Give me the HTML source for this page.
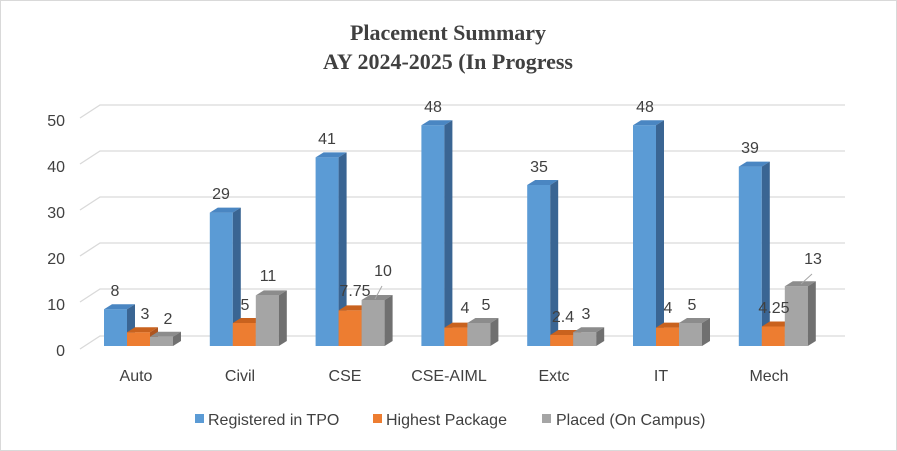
<!DOCTYPE html>
<html><head><meta charset="utf-8"><style>
html,body{margin:0;padding:0;background:#fff}
svg{display:block}
text{font-family:"Liberation Sans",Arial,sans-serif;fill:#404040}
</style></head><body>
<svg width="897" height="451" viewBox="0 0 897 451" xmlns="http://www.w3.org/2000/svg">
<rect x="0.5" y="0.5" width="896" height="450" fill="#fff" stroke="#d9d9d9"/>
<text x="448" y="40" text-anchor="middle" style="font-family:'Liberation Serif',serif;font-weight:bold;font-size:22px;fill:#404040">Placement Summary</text>
<text x="448" y="69" text-anchor="middle" style="font-family:'Liberation Serif',serif;font-weight:bold;font-size:22px;fill:#404040">AY 2024-2025 (In Progress</text>
<g stroke="#d9d9d9" stroke-width="1.3" fill="none">
<polyline points="80,118 100,105 845,105"/>
<polyline points="80,164 100,151 845,151"/>
<polyline points="80,210 100,197 845,197"/>
<polyline points="80,256 100,243 845,243"/>
<polyline points="80,302 100,289 845,289"/>
<polyline points="80,349 100,336 845,336"/>
</g>
<g font-size="16" text-anchor="end">
<text x="65" y="126">50</text><text x="65" y="172">40</text><text x="65" y="218">30</text>
<text x="65" y="264">20</text><text x="65" y="310">10</text><text x="65" y="356">0</text>
</g>
<defs>
<style>
.bf{fill:#5b9bd5}.bt{fill:#4a86c2}.bs{fill:#3a6593}
.of{fill:#ed7d31}.ot{fill:#c9621e}.os{fill:#ae5520}
.gf{fill:#a5a5a5}.gt{fill:#8c8c8c}.gs{fill:#707070}
</style>
</defs>
<g transform="translate(104,309.2)"><rect class="bf" width="23" height="36.8"/><polygon class="bt" points="0,0 8,-5 31,-5 23,0"/><polygon class="bs" points="23,0 31,-5 31,31.8 23,36.8"/></g>
<g transform="translate(127,332.2)"><rect class="of" width="23" height="13.8"/><polygon class="ot" points="0,0 8,-5 31,-5 23,0"/><polygon class="os" points="23,0 31,-5 31,8.8 23,13.8"/></g>
<g transform="translate(150,336.8)"><rect class="gf" width="23" height="9.2"/><polygon class="gt" points="0,0 8,-5 31,-5 23,0"/><polygon class="gs" points="23,0 31,-5 31,4.2 23,9.2"/></g>
<g transform="translate(209.8,212.6)"><rect class="bf" width="23" height="133.4"/><polygon class="bt" points="0,0 8,-5 31,-5 23,0"/><polygon class="bs" points="23,0 31,-5 31,128.4 23,133.4"/></g>
<g transform="translate(232.8,323)"><rect class="of" width="23" height="23"/><polygon class="ot" points="0,0 8,-5 31,-5 23,0"/><polygon class="os" points="23,0 31,-5 31,18 23,23"/></g>
<g transform="translate(255.8,295.4)"><rect class="gf" width="23" height="50.6"/><polygon class="gt" points="0,0 8,-5 31,-5 23,0"/><polygon class="gs" points="23,0 31,-5 31,45.6 23,50.6"/></g>
<g transform="translate(315.6,157.4)"><rect class="bf" width="23" height="188.6"/><polygon class="bt" points="0,0 8,-5 31,-5 23,0"/><polygon class="bs" points="23,0 31,-5 31,183.6 23,188.6"/></g>
<g transform="translate(338.6,310.4)"><rect class="of" width="23" height="35.6"/><polygon class="ot" points="0,0 8,-5 31,-5 23,0"/><polygon class="os" points="23,0 31,-5 31,30.6 23,35.6"/></g>
<g transform="translate(361.6,300)"><rect class="gf" width="23" height="46"/><polygon class="gt" points="0,0 8,-5 31,-5 23,0"/><polygon class="gs" points="23,0 31,-5 31,41 23,46"/></g>
<g transform="translate(421.4,125.2)"><rect class="bf" width="23" height="220.8"/><polygon class="bt" points="0,0 8,-5 31,-5 23,0"/><polygon class="bs" points="23,0 31,-5 31,215.8 23,220.8"/></g>
<g transform="translate(444.4,327.6)"><rect class="of" width="23" height="18.4"/><polygon class="ot" points="0,0 8,-5 31,-5 23,0"/><polygon class="os" points="23,0 31,-5 31,13.4 23,18.4"/></g>
<g transform="translate(467.4,323)"><rect class="gf" width="23" height="23"/><polygon class="gt" points="0,0 8,-5 31,-5 23,0"/><polygon class="gs" points="23,0 31,-5 31,18 23,23"/></g>
<g transform="translate(527.2,185)"><rect class="bf" width="23" height="161"/><polygon class="bt" points="0,0 8,-5 31,-5 23,0"/><polygon class="bs" points="23,0 31,-5 31,156 23,161"/></g>
<g transform="translate(550.2,335)"><rect class="of" width="23" height="11"/><polygon class="ot" points="0,0 8,-5 31,-5 23,0"/><polygon class="os" points="23,0 31,-5 31,6 23,11"/></g>
<g transform="translate(573.2,332.2)"><rect class="gf" width="23" height="13.8"/><polygon class="gt" points="0,0 8,-5 31,-5 23,0"/><polygon class="gs" points="23,0 31,-5 31,8.8 23,13.8"/></g>
<g transform="translate(633,125.2)"><rect class="bf" width="23" height="220.8"/><polygon class="bt" points="0,0 8,-5 31,-5 23,0"/><polygon class="bs" points="23,0 31,-5 31,215.8 23,220.8"/></g>
<g transform="translate(656,327.6)"><rect class="of" width="23" height="18.4"/><polygon class="ot" points="0,0 8,-5 31,-5 23,0"/><polygon class="os" points="23,0 31,-5 31,13.4 23,18.4"/></g>
<g transform="translate(679,323)"><rect class="gf" width="23" height="23"/><polygon class="gt" points="0,0 8,-5 31,-5 23,0"/><polygon class="gs" points="23,0 31,-5 31,18 23,23"/></g>
<g transform="translate(738.8,166.6)"><rect class="bf" width="23" height="179.4"/><polygon class="bt" points="0,0 8,-5 31,-5 23,0"/><polygon class="bs" points="23,0 31,-5 31,174.4 23,179.4"/></g>
<g transform="translate(761.8,326.5)"><rect class="of" width="23" height="19.5"/><polygon class="ot" points="0,0 8,-5 31,-5 23,0"/><polygon class="os" points="23,0 31,-5 31,14.5 23,19.5"/></g>
<g transform="translate(784.8,286.2)"><rect class="gf" width="23" height="59.8"/><polygon class="gt" points="0,0 8,-5 31,-5 23,0"/><polygon class="gs" points="23,0 31,-5 31,54.8 23,59.8"/></g>
<g stroke="#a6a6a6" stroke-width="1"><line x1="375" y1="299" x2="382" y2="286"/><line x1="801" y1="284" x2="812" y2="274"/></g>
<g font-size="16" text-anchor="middle">
<text x="115" y="296">8</text><text x="145" y="319">3</text><text x="168" y="324">2</text>
<text x="221" y="199">29</text><text x="245" y="310">5</text><text x="268" y="281">11</text>
<text x="327" y="144">41</text><text x="355" y="296">7.75</text><text x="383" y="276">10</text>
<text x="433" y="112">48</text><text x="465" y="313">4</text><text x="486" y="310">5</text>
<text x="539" y="172">35</text><text x="563" y="322">2.4</text><text x="586" y="319">3</text>
<text x="645" y="112">48</text><text x="668" y="313">4</text><text x="692" y="310">5</text>
<text x="750" y="153">39</text><text x="774" y="313">4.25</text><text x="813" y="264">13</text>
</g>
<g font-size="16" text-anchor="middle">
<text x="136" y="381">Auto</text><text x="240" y="381">Civil</text><text x="345" y="381">CSE</text>
<text x="449" y="381">CSE-AIML</text><text x="554" y="381">Extc</text><text x="661" y="381">IT</text><text x="769" y="381">Mech</text>
</g>
<g font-size="16">
<rect x="195" y="414" width="9" height="9" fill="#5b9bd5"/><text x="208" y="425">Registered in TPO</text>
<rect x="373" y="414" width="9" height="9" fill="#ed7d31"/><text x="386" y="425">Highest Package</text>
<rect x="542" y="414" width="9" height="9" fill="#a5a5a5"/><text x="556" y="425">Placed (On Campus)</text>
</g>
</svg>
</body></html>
